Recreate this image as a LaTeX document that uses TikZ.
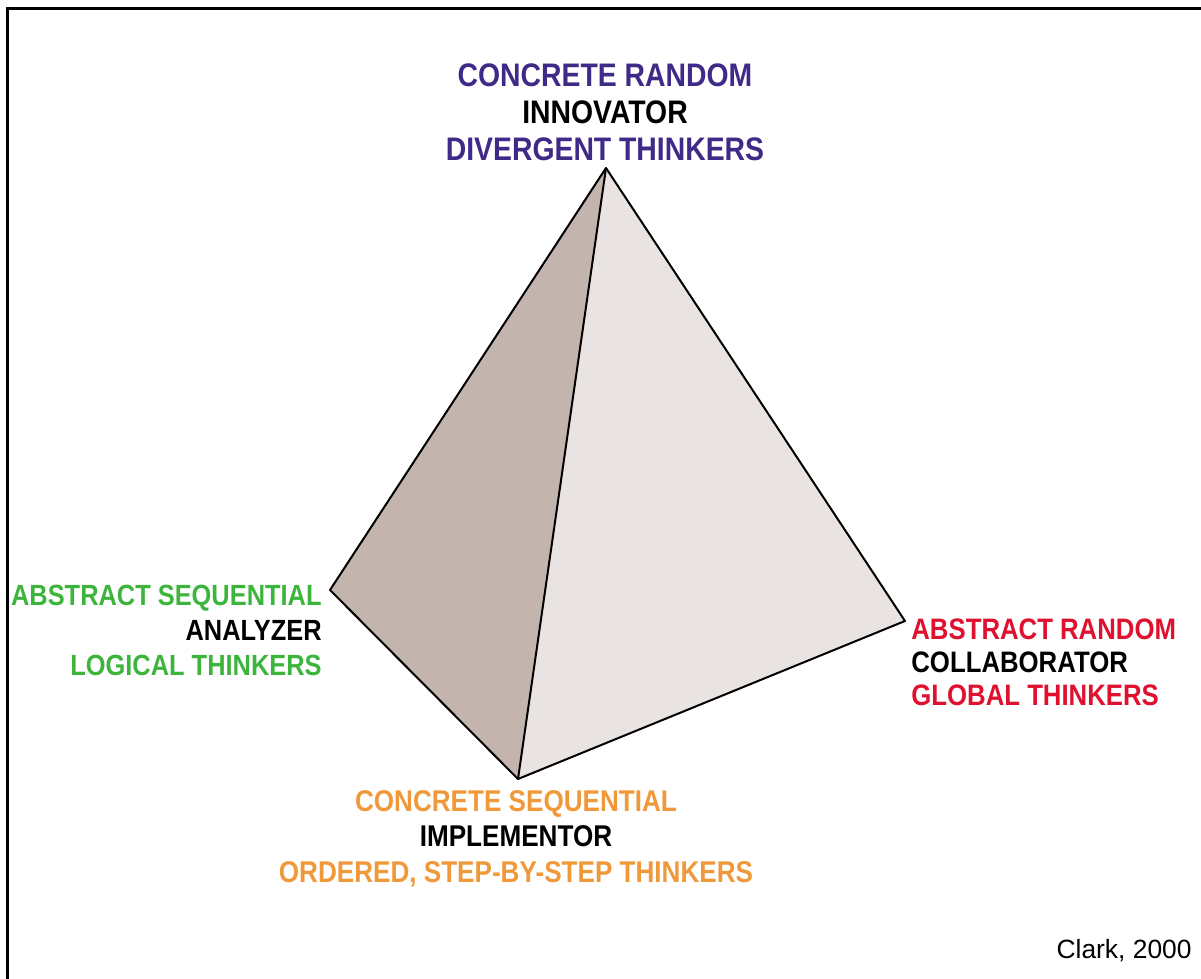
\documentclass[tikz,border=0pt]{standalone}
\usepackage{fontspec}
\setmainfont{Liberation Sans}
\newfontfamily\condfont{Liberation Sans}[FakeStretch=0.87]
\definecolor{crpurple}{HTML}{3F2A87}
\definecolor{asgreen}{HTML}{3DB53D}
\definecolor{arred}{HTML}{E0102F}
\definecolor{csorange}{HTML}{F0993A}
\definecolor{darkface}{HTML}{C3B5AD}
\definecolor{lightface}{HTML}{E9E4E1}
\tikzset{
  stylelabel/.style={inner sep=0pt,font=\condfont\bfseries},
  edge/.style={line width=1pt,black,line join=round}
}
\begin{document}
\begin{tikzpicture}[x=0.5pt,y=-0.5pt]
    \useasboundingbox (0,0) rectangle (1201,979);
    % frame
    \draw[line width=1.5pt] (7.5,979) -- (7.5,8.5) -- (1201,8.5);
    % corners of the pyramid
    \coordinate (apex) at (606,168);
    \coordinate (west) at (330,590);
    \coordinate (south) at (518,779);
    \coordinate (east) at (905,621);
    \fill[darkface] (apex) -- (west) -- (south) -- cycle;
    \fill[lightface] (apex) -- (south) -- (east) -- cycle;
    \draw[edge] (apex) -- (west) -- (south) -- (east) -- cycle;
    \draw[edge] (apex) -- (south);
    % labels
    \node[stylelabel,anchor=north,align=center,font=\condfont\bfseries\fontsize{16.3}{18.5}\selectfont] (cr) at (605,63)
      {\textcolor{crpurple}{CONCRETE RANDOM}\\INNOVATOR\\\textcolor{crpurple}{DIVERGENT THINKERS}};
    \node[stylelabel,anchor=north east,align=right,font=\condfont\bfseries\fontsize{14.6}{17.5}\selectfont] (as) at (322,585)
      {\textcolor{asgreen}{ABSTRACT SEQUENTIAL}\\ANALYZER\\\textcolor{asgreen}{LOGICAL THINKERS}};
    \node[stylelabel,anchor=north west,align=left,font=\condfont\bfseries\fontsize{14.8}{16.6}\selectfont] (ar) at (911,618)
      {\textcolor{arred}{ABSTRACT RANDOM}\\COLLABORATOR\\\textcolor{arred}{GLOBAL THINKERS}};
    \node[stylelabel,anchor=north,align=center,font=\condfont\bfseries\fontsize{15}{17.7}\selectfont] (cs) at (516,790)
      {\textcolor{csorange}{CONCRETE SEQUENTIAL}\\IMPLEMENTOR\\\textcolor{csorange}{ORDERED, STEP-BY-STEP THINKERS}};
    \node[inner sep=0pt,anchor=base east,font=\fontsize{13.2}{15}\selectfont] (src) at (1192,958) {Clark, 2000};
\end{tikzpicture}
\end{document}
